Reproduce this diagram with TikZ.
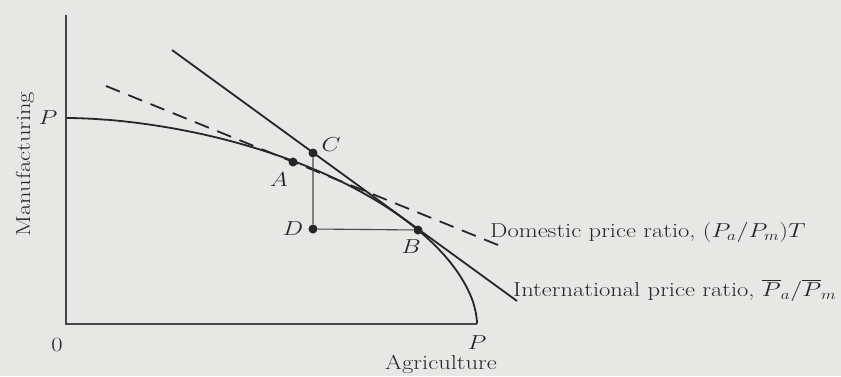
\documentclass[tikz,border=0pt]{standalone}
\usepackage{graphicx}
\definecolor{bg}{RGB}{231,231,229}
\definecolor{ink}{RGB}{38,38,38}
\definecolor{axisc}{RGB}{70,70,70}
\newcommand\bigtxt[1]{\scalebox{1.42}[1.17]{#1}}
\tikzset{
  ln/.style={line width=1.8pt, draw=ink},
  axline/.style={line width=1.3pt, draw=axisc},
  thinline/.style={line width=1.1pt, draw=axisc},
  dashline/.style={line width=1.8pt, draw=ink, dash pattern=on 15pt off 9pt},
  dot/.style={circle, fill=ink, inner sep=0pt, minimum size=9pt},
  lbl/.style={font=\fontsize{17.28}{20}\selectfont, text=ink, inner sep=0pt},
}
\begin{document}
\begin{tikzpicture}[x=1pt,y=1pt]
\fill[bg] (0,0) rectangle (841,376);
\useasboundingbox (0,0) rectangle (841,376);
% axes
\coordinate (ytop) at (66,361);
\coordinate (orig) at (66,52);
\coordinate (xend) at (477,52);
\draw[axline] (ytop) -- (orig) -- (xend);
% price lines
\coordinate (dS) at (106,290);
\coordinate (dE) at (498,131);
\coordinate (iS) at (172,326);
\coordinate (iE) at (517,75);
\draw[dashline] (dS) -- (dE);
\draw[ln] (iS) -- (iE);
% production possibility frontier
\draw[ln] plot[domain=0.2:89.8, samples=150, variable=\t]
  ({66+411*pow(cos(\t),1.111)}, {52+206*pow(sin(\t),1.111)});
% points
\node[dot] (A) at (293,214) {};
\node[dot] (C) at (313,223) {};
\node[dot] (D) at (313,147) {};
\node[dot] (B) at (418,146) {};
\draw[thinline] (C) -- (D) -- (B);
% labels
\node[lbl] (lA) at (279,196) {\bigtxt{$A$}};
\node[lbl] (lC) at (331,231) {\bigtxt{$C$}};
\node[lbl] (lD) at (293,147) {\bigtxt{$D$}};
\node[lbl] (lB) at (411,129) {\bigtxt{$B$}};
\node[lbl] (lPy) at (48,258) {\bigtxt{$P$}};
\node[lbl] (lPx) at (477,33) {\bigtxt{$P$}};
\node[lbl] (l0) at (57,31) {\bigtxt{0}};
\node[lbl, anchor=base west] (ldom) at (490,139) {\bigtxt{Domestic price ratio, $(P_a/P_m)T$}};
\node[lbl, anchor=base west] (lint) at (513,80) {\bigtxt{International price ratio, $\overline{P}_a/\overline{P}_m$}};
\node[lbl, anchor=base] (lagr) at (441,7) {\bigtxt{Agriculture}};
\node[lbl, rotate=90] (lman) at (25,212) {\bigtxt{Manufacturing}};
\end{tikzpicture}
\end{document}
